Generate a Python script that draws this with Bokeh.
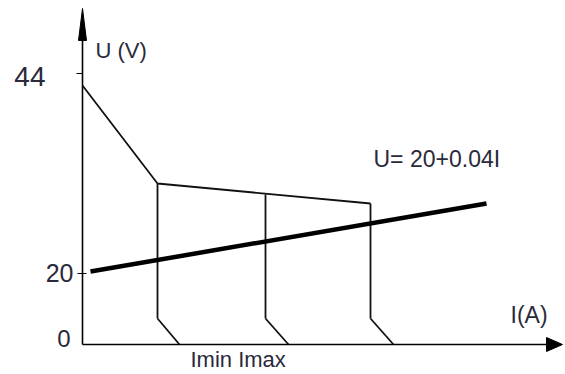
from bokeh.plotting import figure
from bokeh.models import Range1d
from bokeh.core.properties import value
from bokeh.embed import file_html
from bokeh.resources import INLINE

# ---- data (schematic units: I to the right, U upward; origin at axes corner) ----
curve_I = [0, 75, 288]          # drooping characteristic
curve_U = [259, 161, 141]
branch_I = [75, 183, 288]       # three vertical branches
branch_top = [161, 150, 141]
branch_bot = [26, 26, 26]
branch_foot_I = [97, 206, 311]
load_I = [8, 404]               # load line U = 20 + 0.04 I
load_U = [73, 141]
y_tick_pos = [0, 71, 271]
y_tick_labels = ["0", "20", "44"]
x_axis_end = 480
y_axis_end = 336
load_label = "U= 20+0.04I"
x_label = "I(A)"
y_label = "U (V)"
bottom_label = "Imin Imax"

FONT = value("Liberation Sans")
TXT = "#2a2a3a"

p = figure(width=565, height=374, x_range=Range1d(-82, 483), y_range=Range1d(-30, 344),
           output_backend="svg", toolbar_location=None, min_border=0,
           x_axis_type=None, y_axis_type=None)
p.grid.visible = False
p.outline_line_color = None
p.background_fill_color = "white"

# axes lines
p.line([0, x_axis_end - 10], [0, 0], line_color="black", line_width=1.6)
p.line([0, 0], [0, y_axis_end - 20], line_color="black", line_width=1.6)
# arrow heads
p.patch([x_axis_end, x_axis_end - 16, x_axis_end - 16], [0, 7, -7], color="black")
p.patch([0, -4, 4], [y_axis_end, y_axis_end - 32, y_axis_end - 32], color="black")

# y ticks
p.segment(x0=[-5, -6], y0=y_tick_pos[1:], x1=[4, 0], y1=y_tick_pos[1:],
          line_color="black", line_width=1.2)

# characteristic
p.line(curve_I, curve_U, line_color="#111111", line_width=1.8)
p.segment(x0=branch_I, y0=branch_top, x1=branch_I, y1=branch_bot,
          line_color="#111111", line_width=1.8)
p.segment(x0=branch_I, y0=branch_bot, x1=branch_foot_I, y1=[0, 0, 0],
          line_color="#111111", line_width=1.8)

# load line
p.line(load_I, load_U, line_color="black", line_width=4.5)

# tick labels
p.text(x=[-12, -9, -37], y=[6, 72, 268], text=y_tick_labels, text_font=FONT,
       text_font_size=["24px", "25px", "28px"], text_color=TXT, text_align="right",
       text_baseline="middle")
# other labels
p.text(x=[13], y=[294], text=[y_label], text_font=FONT, text_font_size="22px",
       text_color=TXT, text_baseline="middle")
p.text(x=[291], y=[186], text=[load_label], text_font=FONT, text_font_size="23px",
       text_color=TXT, text_baseline="middle")
p.text(x=[428], y=[30], text=[x_label], text_font=FONT, text_font_size="23px",
       text_color=TXT, text_baseline="middle")
p.text(x=[108], y=[-15], text=[bottom_label], text_font=FONT, text_font_size="22px",
       text_color=TXT, text_baseline="middle")

open("out.html", "w").write(file_html(p, INLINE))
